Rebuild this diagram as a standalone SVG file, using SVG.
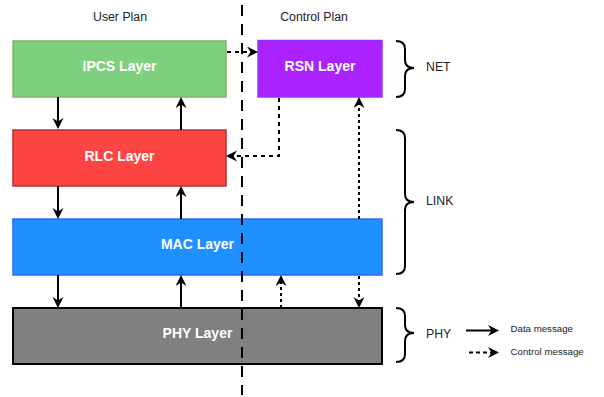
<svg xmlns="http://www.w3.org/2000/svg" width="604" height="397" viewBox="0 0 604 397">
<style>
.lbl{font-family:"Liberation Sans",Arial,sans-serif;font-size:14px;font-weight:bold;fill:#ffffff;text-anchor:middle}
.t{font-family:"Liberation Sans",Arial,sans-serif;font-size:12.3px;fill:#222222}
.s{font-family:"Liberation Sans",Arial,sans-serif;font-size:9.7px;fill:#222222}
.c{fill:none;stroke:#000;stroke-width:2}
.d{stroke-dasharray:4 4}
.br{fill:none;stroke:#000;stroke-width:2}
</style>
<defs>
<marker id="ar" markerUnits="userSpaceOnUse" markerWidth="13" markerHeight="13" refX="8" refY="5.5" orient="auto">
<path d="M0,0 L11,5.5 L0,11 L3.5,5.5 Z" fill="#000"/>
</marker>
</defs>
<rect width="604" height="397" fill="#ffffff"/>
<text class="t" x="120" y="21" text-anchor="middle">User Plan</text>
<text class="t" x="314" y="21" text-anchor="middle">Control Plan</text>
<g id="ipcs"><rect x="13" y="41" width="213" height="56" fill="#7ecf7e" stroke="#82b366" stroke-width="1.5"/><text class="lbl" x="119.5" y="71">IPCS Layer</text></g>
<g id="rlc"><rect x="13" y="130" width="213" height="56" fill="#ff4444" stroke="#b03030" stroke-width="1.5"/><text class="lbl" x="119.5" y="160.5">RLC Layer</text></g>
<g id="rsn"><rect x="258" y="40.5" width="124" height="56.5" fill="#aa22ff" stroke="#9933ff" stroke-width="1.5"/><text class="lbl" x="320" y="71">RSN Layer</text></g>
<g id="mac"><rect x="13" y="219" width="369" height="56" fill="#1e90ff" stroke="#3366ff" stroke-width="1.5"/><text class="lbl" x="197.5" y="249">MAC Layer</text></g>
<g id="phy"><rect x="13" y="308" width="369" height="56" fill="#808080" stroke="#000000" stroke-width="2"/><text class="lbl" x="197.5" y="338">PHY Layer</text></g>
<g id="connectors">
<line class="c" x1="58" y1="97" x2="58" y2="126" marker-end="url(#ar)"/>
<line class="c" x1="58" y1="186" x2="58" y2="216" marker-end="url(#ar)"/>
<line class="c" x1="58" y1="275" x2="58" y2="305" marker-end="url(#ar)"/>
<line class="c" x1="181" y1="130" x2="181" y2="100" marker-end="url(#ar)"/>
<line class="c" x1="181" y1="219" x2="181" y2="189" marker-end="url(#ar)"/>
<line class="c" x1="181" y1="308" x2="181" y2="278" marker-end="url(#ar)"/>
<line class="c d" x1="227" y1="52" x2="255" y2="52" marker-end="url(#ar)"/>
<polyline class="c d" points="279,98 279,156 229,156" marker-end="url(#ar)"/>
<line class="c" stroke-dasharray="3 3" x1="359" y1="219" x2="359" y2="100" marker-end="url(#ar)"/>
<line class="c" stroke-dasharray="3 3" x1="281" y1="308" x2="281" y2="278" marker-end="url(#ar)"/>
<line class="c" stroke-dasharray="3 3" x1="359" y1="276" x2="359" y2="305" marker-end="url(#ar)"/>
</g>
<g id="braces">
<path class="br" d="M396,41 Q405,41 405,49 L405,60 Q405,68 414,68 Q405,68 405,76 L405,89 Q405,97 396,97"/>
<path class="br" d="M396,130 Q405,130 405,138 L405,194 Q405,202 414,202 Q405,202 405,210 L405,266 Q405,274 396,274"/>
<path class="br" d="M396,308 Q405,308 405,316 L405,325 Q405,333 414,333 Q405,333 405,341 L405,354 Q405,362 396,362"/>
<text class="t" x="426" y="70.5">NET</text>
<text class="t" x="426" y="205">LINK</text>
<text class="t" x="426" y="337.5">PHY</text>
</g>
<g id="legend">
<line class="c" x1="466" y1="330.5" x2="496" y2="330.5" marker-end="url(#ar)"/>
<line class="c" stroke-dasharray="4 3" x1="469" y1="352.5" x2="496" y2="352.5" marker-end="url(#ar)"/>
<text class="s" x="510.5" y="332">Data message</text>
<text class="s" x="510.5" y="355">Control message</text>
</g>
<line x1="242" y1="5" x2="242" y2="395" stroke="#000" stroke-width="2" stroke-dasharray="11 8"/>
</svg>
